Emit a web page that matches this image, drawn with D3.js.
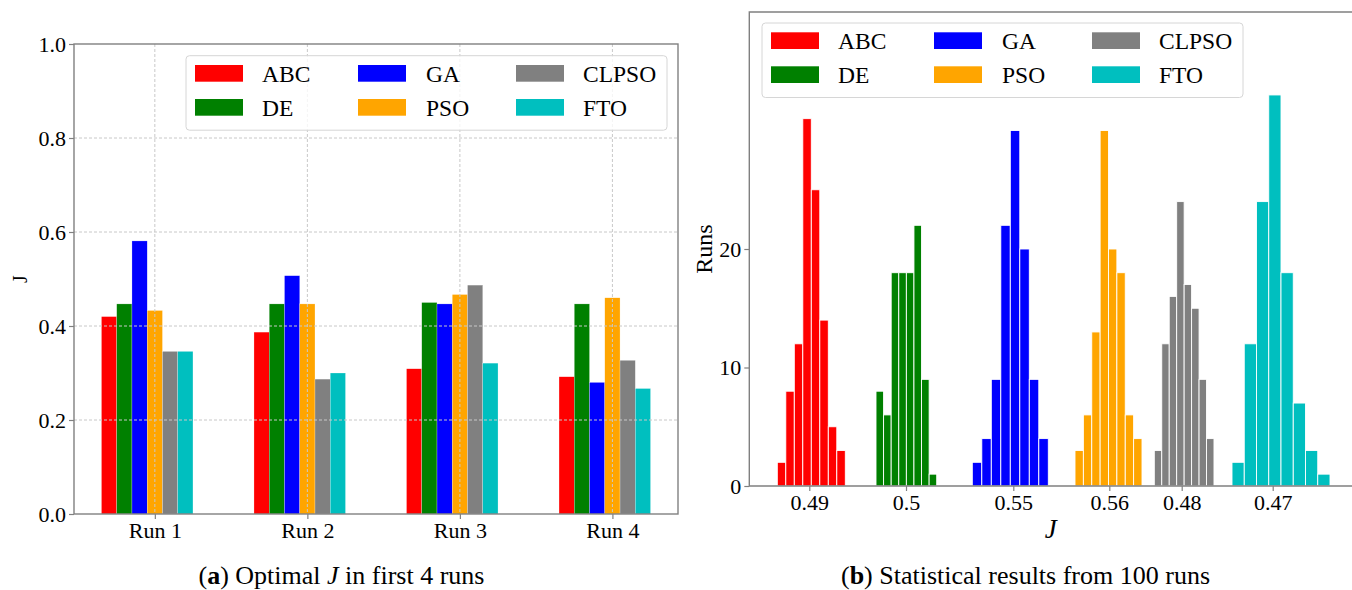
<!DOCTYPE html>
<html>
<head>
<meta charset="utf-8">
<script src="https://cdn.jsdelivr.net/npm/d3@7"></script>
<style>
  html, body { margin: 0; padding: 0; background: #fff; }
  svg { display: block; }
  text { font-family: "Liberation Serif", "Times New Roman", serif; fill: #000; }
</style>
</head>
<body>
<svg id="fig" width="1352" height="590"></svg>
<script>
// ---- data ----
const algorithms = ["ABC", "DE", "GA", "PSO", "CLPSO", "FTO"];
const algoColors = ["#ff0000", "#008000", "#0000ff", "#ffa500", "#808080", "#00bfbf"];

// (a) optimal J per run
const runLabels = ["Run 1", "Run 2", "Run 3", "Run 4"];
const jABC   = [0.420, 0.387, 0.309, 0.292];
const jDE    = [0.447, 0.447, 0.450, 0.447];
const jGA    = [0.581, 0.507, 0.447, 0.280];
const jPSO   = [0.433, 0.447, 0.467, 0.460];
const jCLPSO = [0.346, 0.287, 0.487, 0.327];
const jFTO   = [0.346, 0.300, 0.321, 0.267];
const jTicks = [0.0, 0.2, 0.4, 0.6, 0.8, 1.0];

// (b) histogram counts over 100 runs (8 bins each)
const runsABC   = [2, 8, 12, 31, 25, 14, 5, 3];
const runsDE    = [8, 6, 18, 18, 18, 22, 9, 1];
const runsGA    = [2, 4, 9, 22, 30, 20, 9, 4];
const runsPSO   = [3, 6, 13, 30, 20, 18, 6, 4];
const runsCLPSO = [3, 12, 16, 24, 17, 15, 9, 4];
const runsFTO   = [2, 12, 24, 33, 18, 7, 3, 1];
// bin layout on the shared histogram axis
const histStart  = [2.80, 12.67, 22.30, 32.57, 40.50, 48.27];
const histBin    = [0.85, 0.759, 0.95, 0.8375, 0.746, 1.225];
const histTicks  = [6.00, 15.67, 26.40, 36.00, 43.24, 52.34];
const histLabels = ["0.49", "0.5", "0.55", "0.56", "0.48", "0.47"];
const runsTicks  = [0, 10, 20];

const jSeries = [jABC, jDE, jGA, jPSO, jCLPSO, jFTO];
const runSeries = [runsABC, runsDE, runsGA, runsPSO, runsCLPSO, runsFTO];

// ---- styles ----
const spineColor = "#808080";
const gridColor = "#c8c8c8";
const tickFont = 22;

const svg = d3.select("#fig");

// ---------- panel (a) ----------
const A = { left: 74, right: 678, top: 44, bottom: 514 };
const xA = d3.scaleLinear().domain([-0.53, 3.43]).range([A.left, A.right]);
const yA = d3.scaleLinear().domain([0, 1]).range([A.bottom, A.top]);
const barW = 0.1;

const gA = svg.append("g");

// bars
jSeries.forEach((vals, i) => {
  gA.selectAll(null).data(vals).enter().append("rect")
    .attr("x", (d, r) => xA(r + (i - 3) * barW - barW / 2))
    .attr("width", xA(barW) - xA(0))
    .attr("y", d => yA(d))
    .attr("height", d => yA(0) - yA(d))
    .attr("fill", algoColors[i])
    .attr("stroke", "#ffffff").attr("stroke-width", 0.4).attr("stroke-opacity", 0.6);
});

// grid (drawn above bars)
gA.append("g").selectAll("line").data(jTicks.filter(t => t > 0 && t < 1)).enter().append("line")
  .attr("x1", A.left).attr("x2", A.right)
  .attr("y1", d => yA(d)).attr("y2", d => yA(d))
  .attr("stroke", gridColor).attr("stroke-width", 1).attr("stroke-dasharray", "3,2");
gA.append("g").selectAll("line").data(runLabels).enter().append("line")
  .attr("x1", (d, i) => xA(i)).attr("x2", (d, i) => xA(i))
  .attr("y1", A.top).attr("y2", A.bottom)
  .attr("stroke", gridColor).attr("stroke-width", 1).attr("stroke-dasharray", "3,2");

// axes
const axA_left = d3.axisLeft(yA).tickValues(jTicks).tickFormat(d3.format(".1f")).tickSize(5).tickPadding(3);
const axA_bottom = d3.axisBottom(xA).tickValues([0, 1, 2, 3]).tickFormat((d) => runLabels[d]).tickSize(5).tickPadding(3);

function styleAxis(g) {
  g.select(".domain").remove();
  g.selectAll(".tick line").attr("stroke", spineColor).attr("stroke-width", 1.2);
  g.selectAll(".tick text").attr("font-size", tickFont).attr("font-family", "Liberation Serif, serif").attr("fill", "#000");
}
gA.append("g").attr("transform", `translate(${A.left},0)`).call(axA_left).call(styleAxis);
gA.append("g").attr("transform", `translate(0,${A.bottom})`).call(axA_bottom).call(styleAxis);

// spines
gA.append("rect").attr("x", A.left).attr("y", A.top)
  .attr("width", A.right - A.left).attr("height", A.bottom - A.top)
  .attr("fill", "none").attr("stroke", spineColor).attr("stroke-width", 1.4);

// axis label
gA.append("text").attr("transform", `translate(27,${(A.top + A.bottom) / 2}) rotate(-90)`)
  .attr("text-anchor", "middle").attr("font-size", 20).text("J");

// ---------- panel (b) ----------
const B = { left: 749.3, right: 1352, top: 12, bottom: 486 };
const xB = d3.scaleLinear().domain([0, 60.27]).range([B.left, B.right]);
const yB = d3.scaleLinear().domain([0, 40]).range([B.bottom, B.top]);

const gB = svg.append("g");
runSeries.forEach((counts, i) => {
  gB.selectAll(null).data(counts).enter().append("rect")
    .attr("x", (d, k) => xB(histStart[i] + k * histBin[i]))
    .attr("width", xB(histBin[i]) - xB(0))
    .attr("y", d => yB(d))
    .attr("height", d => yB(0) - yB(d))
    .attr("fill", algoColors[i])
    .attr("stroke", "#ffffff").attr("stroke-width", 0.9);
});

const axB_left = d3.axisLeft(yB).tickValues(runsTicks).tickFormat(d3.format("d")).tickSize(5).tickPadding(3);
const axB_bottom = d3.axisBottom(xB).tickValues(histTicks).tickFormat((d, i) => histLabels[i]).tickSize(5).tickPadding(3);
gB.append("g").attr("transform", `translate(${B.left},0)`).call(axB_left).call(styleAxis);
gB.append("g").attr("transform", `translate(0,${B.bottom})`).call(axB_bottom).call(styleAxis);

// spines (left, top, bottom)
gB.append("path")
  .attr("d", `M${B.right},${B.top}H${B.left}V${B.bottom}H${B.right}`)
  .attr("fill", "none").attr("stroke", spineColor).attr("stroke-width", 1.4);

gB.append("text").attr("transform", `translate(712,${(B.top + B.bottom) / 2}) rotate(-90)`)
  .attr("text-anchor", "middle").attr("font-size", 24).text("Runs");
gB.append("text").attr("x", (B.left + B.right) / 2).attr("y", 538)
  .attr("text-anchor", "middle").attr("font-size", 27).attr("font-style", "italic").text("J");

// ---------- legends ----------
function legend(x0, y0) {
  const g = svg.append("g").attr("transform", `translate(${x0},${y0})`);
  g.append("rect").attr("width", 481).attr("height", 74.5).attr("rx", 3.5)
    .attr("fill", "#fff").attr("fill-opacity", 0.8)
    .attr("stroke", "#d6d6d6").attr("stroke-width", 1);
  const colX = [9, 172, 330];
  const textX = [76, 240, 397];
  const rowY = [9.3, 43.3];
  algorithms.forEach((name, i) => {
    const c = Math.floor(i / 2), r = i % 2;
    g.append("rect").attr("x", colX[c]).attr("y", rowY[r])
      .attr("width", 48).attr("height", 16.7).attr("fill", algoColors[i]);
    g.append("text").attr("x", textX[c]).attr("y", rowY[r] + 17)
      .attr("font-size", 23.5).text(name);
  });
}
legend(186, 55.7);
legend(762, 23);

// ---------- captions ----------
function caption(cx, label, rest) {
  const t = svg.append("text").attr("x", cx).attr("y", 584)
    .attr("text-anchor", "middle").attr("font-size", 26);
  t.append("tspan").text("(");
  t.append("tspan").attr("font-weight", "bold").text(label);
  t.append("tspan").text(") ");
  return t;
}
const capA = caption(341.5, "a");
capA.append("tspan").text("Optimal ");
capA.append("tspan").attr("font-style", "italic").text("J");
capA.append("tspan").text(" in first 4 runs");
const capB = caption(1025.5, "b");
capB.append("tspan").text("Statistical results from 100 runs");
</script>
</body>
</html>
